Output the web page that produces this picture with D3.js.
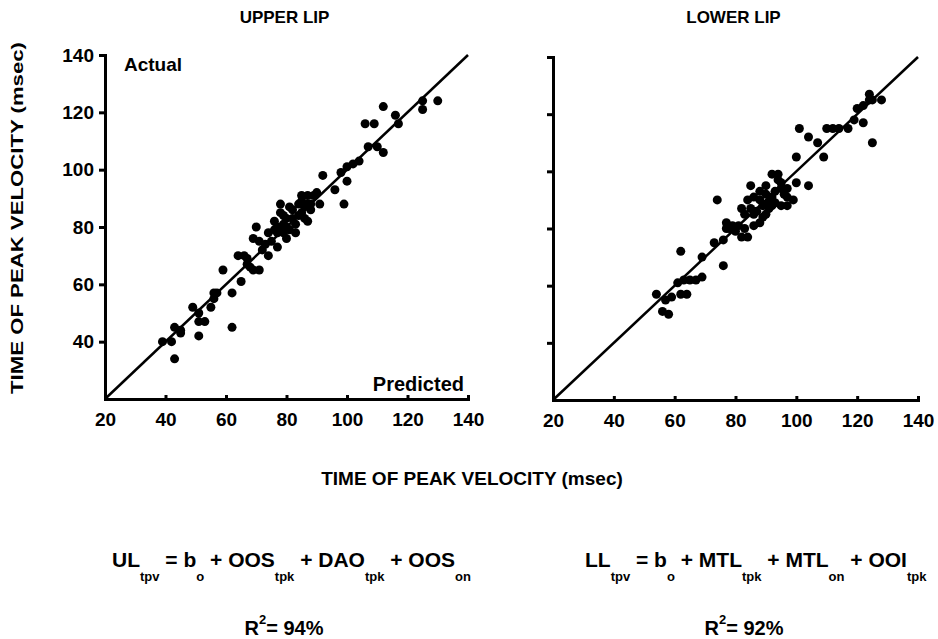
<!DOCTYPE html>
<html>
<head>
<meta charset="utf-8">
<script src="https://cdn.jsdelivr.net/npm/d3@7"></script>
<style>
  body { margin: 0; background: #fff; }
  svg { display: block; font-family: "Liberation Sans", Arial, sans-serif; font-weight: bold; }
</style>
</head>
<body>
<svg id="chart" width="938" height="639"></svg>
<script>
// axis ticks shared by both panels
const ticks = [20, 40, 60, 80, 100, 120, 140];
const domain = [20, 140];

// upper lip: [predicted, actual] in msec
const upperLip = [
  [39, 40], [43, 45], [45, 43], [42, 40], [45, 44], [43, 34], [51, 42],
  [49, 52], [51, 50], [51, 47], [53, 47], [55, 52], [56, 55], [57, 57],
  [56, 57], [59, 65], [62, 57], [65, 61], [62, 45], [64, 70], [66, 70],
  [67, 69], [67, 67], [69, 65], [71, 65], [68, 66], [70, 80], [69, 76],
  [71, 75], [73, 74], [75, 75], [77, 73], [74, 70], [72, 72], [78, 88],
  [78, 85], [76, 82], [77, 80], [79, 81], [80, 83], [81, 87], [82, 86],
  [84, 88], [85, 85], [83, 78], [81, 79], [80, 76], [86, 83], [87, 82],
  [85, 91], [87, 91], [89, 91], [90, 92], [85, 89], [87, 88], [88, 86],
  [79, 78], [74, 78], [77, 78], [76, 79], [79, 84], [82, 83], [83, 81],
  [84, 84], [80, 80], [78, 79], [86, 87], [88, 88], [91, 88], [92, 98],
  [96, 93], [99, 88], [100, 96], [98, 99], [100, 101], [102, 102], [104, 103],
  [107, 108], [110, 108], [106, 116], [109, 116], [112, 122], [112, 106],
  [116, 119], [117, 116], [125, 124], [125, 121], [130, 124]
];

// lower lip: [predicted, actual] in msec
const lowerLip = [
  [56, 51], [58, 50], [54, 57], [57, 55], [59, 56], [61, 61], [63, 62],
  [65, 62], [67, 62], [69, 63], [64, 57], [62, 57], [62, 72], [69, 70],
  [76, 67], [74, 90], [73, 75], [76, 76], [77, 80], [77, 82], [79, 81],
  [81, 81], [83, 80], [84, 77], [82, 77], [86, 81], [88, 82], [82, 87],
  [83, 85], [85, 87], [84, 90], [85, 95], [86, 91], [88, 90], [89, 88],
  [90, 85], [91, 87], [92, 88], [92, 91], [90, 95], [92, 99], [94, 99],
  [94, 97], [95, 96], [95, 94], [97, 94], [97, 91], [99, 90], [100, 96],
  [93, 89], [95, 88], [97, 88], [91, 89], [90, 92], [87, 86], [89, 84],
  [80, 79], [78, 80], [86, 85], [88, 93], [93, 93], [96, 92], [104, 95],
  [100, 105], [101, 115], [104, 112], [107, 110], [109, 105], [110, 115],
  [112, 115], [114, 115], [117, 115], [119, 118], [122, 117], [120, 122],
  [122, 123], [124, 125], [124, 127], [125, 125], [128, 125], [125, 110]
];

const svg = d3.select('#chart');

const panels = [
  { data: upperLip, title: 'UPPER LIP', left: 105, right: 468, top: 55, bottom: 399, labels: true },
  { data: lowerLip, title: 'LOWER LIP', left: 553, right: 918, top: 57, bottom: 400, labels: false }
];

panels.forEach(p => {
  const x = d3.scaleLinear().domain(domain).range([p.left, p.right]);
  const y = d3.scaleLinear().domain(domain).range([p.bottom, p.top]);
  const g = svg.append('g');

  // x axis: small inward ticks, bold labels
  const xAxis = g.append('g')
    .attr('transform', `translate(0,${p.bottom})`)
    .call(d3.axisBottom(x).tickValues(ticks).tickSize(-4).tickSizeOuter(0).tickPadding(14).tickFormat(d3.format('d')));

  const yAxis = g.append('g')
    .attr('transform', `translate(${p.left},0)`)
    .call(d3.axisLeft(y).tickValues(ticks.slice(1)).tickSize(6).tickSizeOuter(0).tickPadding(5)
      .tickFormat(p.labels ? d3.format('d') : ''));

  [xAxis, yAxis].forEach(a => {
    a.attr('font-size', 19).attr('font-family', null);
    a.selectAll('text').attr('fill', '#000');
    a.select('.domain').attr('stroke', '#000').attr('stroke-width', 3).attr('stroke-linecap', 'square');
    a.selectAll('.tick line').attr('stroke', '#000').attr('stroke-width', 3);
  });

  // identity line
  g.append('line')
    .attr('x1', x(20)).attr('y1', y(20))
    .attr('x2', x(140)).attr('y2', y(140))
    .attr('stroke', '#000').attr('stroke-width', 2.5);

  g.append('g').selectAll('circle')
    .data(p.data)
    .join('circle')
    .attr('cx', d => x(d[0]))
    .attr('cy', d => y(d[1]))
    .attr('r', 4.5)
    .attr('fill', '#000');

  svg.append('text')
    .attr('x', (p.left + p.right) / 2 - 2)
    .attr('y', 23)
    .attr('text-anchor', 'middle')
    .attr('font-size', 17)
    .text(p.title);
});

// corner labels on the upper lip panel
svg.append('text').attr('x', 124).attr('y', 71).attr('font-size', 19).text('Actual');
svg.append('text').attr('x', 464).attr('y', 391).attr('text-anchor', 'end').attr('font-size', 20).text('Predicted');

// axis titles
svg.append('text')
  .attr('x', 472).attr('y', 485)
  .attr('text-anchor', 'middle')
  .attr('font-size', 19)
  .text('TIME OF PEAK VELOCITY (msec)');

svg.append('text')
  .attr('transform', 'translate(23,218) rotate(-90)')
  .attr('text-anchor', 'middle')
  .attr('font-size', 17)
  .attr('textLength', 352)
  .attr('lengthAdjust', 'spacingAndGlyphs')
  .text('TIME OF PEAK VELOCITY (msec)');

// regression equations: [text, subscript] pairs
const ulTerms = [['UL', 'tpv'], [' = b', 'o'], [' + OOS', 'tpk'], [' + DAO', 'tpk'], [' + OOS', 'on']];
const llTerms = [['LL', 'tpv'], [' = b', 'o'], [' + MTL', 'tpk'], [' + MTL', 'on'], [' + OOI', 'tpk']];

function equation(terms, x0, y0) {
  const t = svg.append('text').attr('x', x0).attr('y', y0).attr('font-size', 21)
    .attr('xml:space', 'preserve');
  terms.forEach(([main, sub], i) => {
    t.append('tspan').attr('font-size', 21).attr('dy', i ? -14 : 0).text(main);
    t.append('tspan').attr('font-size', 13).attr('dy', 14).text(sub);
  });
}
equation(ulTerms, 112, 567);
equation(llTerms, 585, 567);

function rsq(value, cx) {
  const t = svg.append('text').attr('x', cx).attr('y', 635).attr('text-anchor', 'middle').attr('font-size', 20);
  t.append('tspan').text('R');
  t.append('tspan').attr('font-size', 13).attr('dy', -11).text('2');
  t.append('tspan').attr('dy', 11).text(`= ${value}%`);
}
rsq(94, 284);
rsq(92, 744);
</script>
</body>
</html>
